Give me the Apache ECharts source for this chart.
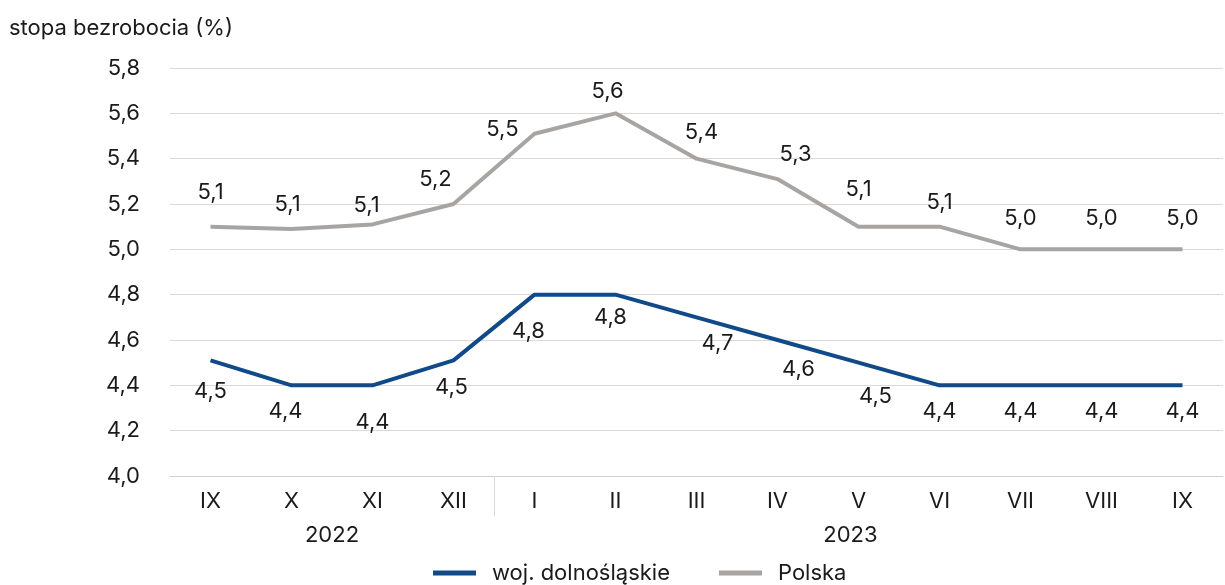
<!DOCTYPE html>
<html>
<head>
<meta charset="utf-8">
<script src="https://cdn.jsdelivr.net/npm/echarts@6/dist/echarts.min.js"></script>
<style>
  html, body { margin: 0; padding: 0; background: #fff; }
  #chart { width: 1225px; height: 585px; }
</style>
</head>
<body>
<div id="chart"></div>
<script>
// miesiące IX 2022 - IX 2023
const months = ['IX', 'X', 'XI', 'XII', 'I', 'II', 'III', 'IV', 'V', 'VI', 'VII', 'VIII', 'IX'];
const years = ['2022', '2023'];
const dolnoslaskie = [4.51, 4.4, 4.4, 4.51, 4.8, 4.8, 4.7, 4.6, 4.5, 4.4, 4.4, 4.4, 4.4];
const polska = [5.1, 5.09, 5.11, 5.2, 5.51, 5.6, 5.4, 5.31, 5.1, 5.1, 5.0, 5.0, 5.0];

const FONT = 'Inter, "Noto Sans", sans-serif';
const FS = 22;
const TXT = '#1a1a1a';
const BLUE = '#114a89';
const GRAY = '#a8a4a1';

const fmt = v => v.toFixed(1).replace('.', ',');

// przesuniecia etykiet (jak w oryginale z Excela)
const polskaLabelFix = {
  0: { offset: [0, -10] },
  1: { offset: [-4, -1] },
  2: { offset: [-6, 5] },
  3: { offset: [-18, -1] },
  4: { position: 'left', distance: 16, offset: [0, -4] },
  5: { offset: [-8, 2] },
  6: { offset: [5, -2] },
  7: { offset: [18, -1] },
  8: { offset: [0, -13] },
  10: { offset: [0, -7] },
  11: { offset: [0, -7] },
  12: { offset: [0, -7] }
};
const dolnLabelFix = {
  0: { offset: [0, 5] },
  1: { offset: [-6, 0] },
  2: { offset: [0, 11] },
  3: { offset: [-2, 1] },
  4: { offset: [-6, 11] },
  5: { offset: [-5, -3] },
  6: { offset: [21, 0] },
  7: { offset: [21, 3] },
  8: { offset: [17, 8] }
};

function makeData(vals, fixes) {
  return vals.map((v, i) => fixes[i] ? { value: v, label: fixes[i] } : v);
}

const chart = echarts.init(document.getElementById('chart'));
chart.setOption({
  animation: false,
  textStyle: { fontFamily: FONT },
  title: {
    text: 'stopa bezrobocia (%)',
    left: 4,
    top: 12,
    textStyle: { fontFamily: FONT, fontSize: FS, fontWeight: 'normal', color: TXT }
  },
  legend: {
    top: 557,
    left: 428,
    itemWidth: 43,
    itemHeight: 5,
    itemGap: 49,
    icon: 'rect',
    textStyle: { fontFamily: FONT, fontSize: FS, color: TXT, padding: [0, 0, 0, 11] },
    data: ['woj. dolnośląskie', 'Polska']
  },
  grid: { left: 170, right: 2, top: 68, bottom: 109 },
  xAxis: [
    {
      type: 'category',
      data: months,
      boundaryGap: true,
      axisLine: { lineStyle: { color: '#d0d0d0', width: 1 } },
      axisTick: { show: false },
      axisLabel: { fontFamily: FONT, fontSize: FS, color: TXT, margin: 14 }
    },
    {
      type: 'value',
      position: 'bottom',
      min: -0.5,
      max: 12.5,
      splitLine: { show: false },
      axisLine: { show: false },
      axisTick: { show: true, customValues: [3.5], length: 40, inside: false,
        lineStyle: { color: '#d9d9d9', width: 1 } },
      axisLabel: {
        customValues: [1.5, 7.9],
        fontFamily: FONT, fontSize: FS, color: TXT, margin: 48,
        formatter: v => v < 4 ? years[0] : years[1]
      }
    }
  ],
  yAxis: {
    type: 'value',
    min: 4.0,
    max: 5.8,
    interval: 0.2,
    axisLine: { show: false },
    axisTick: { show: false },
    splitLine: { lineStyle: { color: '#d9d9d9', width: 1 } },
    axisLabel: { fontFamily: FONT, fontSize: FS, color: TXT, margin: 30, formatter: fmt }
  },
  series: [
    {
      name: 'woj. dolnośląskie',
      type: 'line',
      data: makeData(dolnoslaskie, dolnLabelFix),
      symbol: 'circle',
      symbolSize: 0,
      showSymbol: true,
      lineStyle: { color: BLUE, width: 4 },
      itemStyle: { color: BLUE },
      label: {
        show: true, position: 'bottom', distance: 15,
        fontFamily: FONT, fontSize: FS, color: TXT,
        formatter: p => fmt(p.value)
      },
      z: 3
    },
    {
      name: 'Polska',
      type: 'line',
      data: makeData(polska, polskaLabelFix),
      symbol: 'circle',
      symbolSize: 0,
      showSymbol: true,
      lineStyle: { color: GRAY, width: 4 },
      itemStyle: { color: GRAY },
      label: {
        show: true, position: 'top', distance: 13,
        fontFamily: FONT, fontSize: FS, color: TXT,
        formatter: p => fmt(p.value)
      },
      z: 2
    }
  ]
});
</script>
</body>
</html>
